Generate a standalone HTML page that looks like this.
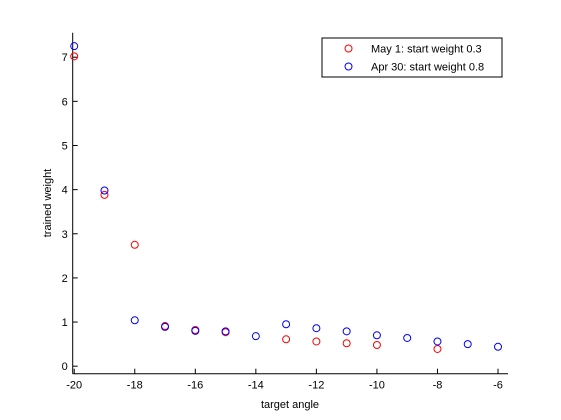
<!DOCTYPE html>
<html><head><meta charset="utf-8"><style>
body{margin:0;background:#fff}
svg{display:block;font-family:"Liberation Sans",sans-serif;font-size:11px}
</style></head><body>
<svg id="chart" width="561" height="420" xmlns="http://www.w3.org/2000/svg">
<rect width="561" height="420" fill="#fff"/>
<g id="axes"></g>
<g id="marks"></g>
<text x="290" y="408" text-anchor="middle">target angle</text>
<text transform="translate(51,203) rotate(-90)" text-anchor="middle">trained weight</text>
<g>
<rect x="322" y="38" width="180" height="39" fill="#fff" stroke="#000" stroke-width="1"/>
<circle cx="348.5" cy="48.5" r="3.5" fill="none" stroke="#f00"/>
<text x="371" y="52.5">May 1: start weight 0.3</text>
<circle cx="348.5" cy="66.5" r="3.5" fill="none" stroke="#00f"/>
<text x="371" y="70.5">Apr 30: start weight 0.8</text>
</g>
</svg>
<script>
const redX=[-20,-19,-18,-17,-16,-15,-13,-12,-11,-10,-8];
const redY=[7.02,3.88,2.75,0.91,0.82,0.77,0.61,0.56,0.52,0.48,0.39];
const blueX=[-20,-19,-18,-17,-16,-15,-14,-13,-12,-11,-10,-9,-8,-7,-6];
const blueY=[7.25,3.98,1.04,0.89,0.80,0.79,0.68,0.95,0.86,0.79,0.70,0.64,0.56,0.50,0.44];
const xTicks=[-20,-18,-16,-14,-12,-10,-8,-6];
const yTicks=[0,1,2,3,4,5,6,7];
const NS="http://www.w3.org/2000/svg";
const L=72.7,R=508,T=32.7,B=373.7;
const xMin=-20.05,xMax=-5.67,yMin=-0.17,yMax=7.555;
function sx(v){return L+(v-xMin)/(xMax-xMin)*(R-L);}
function sy(v){return B-(v-yMin)/(yMax-yMin)*(B-T);}
function mk(tag,attrs,parent){const e=document.createElementNS(NS,tag);for(const k in attrs)e.setAttribute(k,attrs[k]);parent.appendChild(e);return e;}
const ax=document.getElementById('axes');
let e=mk('line',{x1:L,y1:B,x2:R,y2:B,stroke:'#000'},ax);


e=mk('line',{x1:L,y1:T,x2:L,y2:B,stroke:'#000'},ax);


xTicks.forEach(t=>{const x=sx(t);
 let l=mk('line',{x1:x,y1:B,x2:x,y2:B-5,stroke:'#000'},ax);
 
 
 let tx=mk('text',{x:x,y:B+15,'text-anchor':'middle'},ax);tx.textContent=t;
 
 
});
yTicks.forEach(t=>{const y=sy(t);
 let l=mk('line',{x1:L,y1:y,x2:L+5,y2:y,stroke:'#000'},ax);
 
 
 let tx=mk('text',{x:L-5,y:y+4,'text-anchor':'end'},ax);tx.textContent=t;
 
 
});
const mg=document.getElementById('marks');
redX.forEach((v,i)=>{let c=mk('circle',{cx:sx(v),cy:sy(redY[i]),r:3.5,fill:'none',stroke:'#f00'},mg);
 
 });
blueX.forEach((v,i)=>{let c=mk('circle',{cx:sx(v),cy:sy(blueY[i]),r:3.5,fill:'none',stroke:'#00f'},mg);
 
 });
</script>
</body></html>
